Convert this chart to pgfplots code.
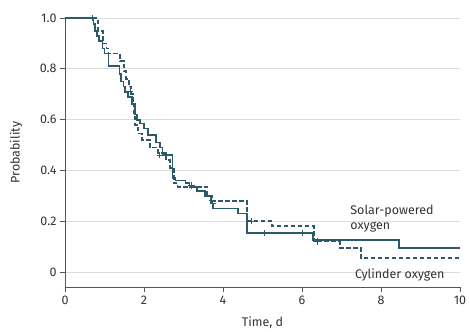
\documentclass[border=0pt]{standalone}
\usepackage{fontspec}
\setmainfont{Fira Sans}
\usepackage{pgfplots}
\pgfplotsset{compat=1.18}
\definecolor{km}{HTML}{2C5A68}
\definecolor{axg}{HTML}{555555}
\definecolor{grd}{HTML}{DCDCDC}
\definecolor{txt}{HTML}{333333}
\newcommand{\lf}{\fontsize{12.5bp}{14bp}\selectfont}
\begin{document}
\begin{tikzpicture}
\path[use as bounding box] (-65bp,-45bp) rectangle (405bp,287bp);
\begin{axis}[
  at={(0,0)}, anchor=south west,
  scale only axis, width=395bp, height=269bp,
  xmin=0, xmax=10, ymin=-0.059, ymax=1.0,
  axis x line*=bottom, axis y line*=left,
  axis line style={axg, line width=0.8pt, -},
  xtick={0,2,4,6,8,10},
  ytick={0,0.2,0.4,0.6,0.8,1.0},
  yticklabels={0,0.2,0.4,0.6,0.8,1.0},
  tick align=outside, major tick length=5bp,
  tick style={axg, line width=0.8pt},
  ymajorgrids, grid style={grd, line width=0.8pt},
  /pgf/number format/assume math mode=true,
  ticklabel style={font=\lf, text=txt},
  xlabel={Time, d}, ylabel={Probability},
  every axis x label/.style={at={([yshift=-36bp]axis description cs:0.5,0)}, anchor=center, font=\lf, text=txt},
  every axis y label/.style={at={([xshift=-49bp]axis description cs:0,0.5)}, rotate=90, anchor=center, font=\lf, text=txt},
  clip=false,
]
% Solar-powered oxygen (solid)
\addplot[const plot, km, line width=1.8pt] coordinates {
(0,1.0) (0.72,0.975) (0.76,0.95) (0.82,0.93) (0.87,0.91) (0.95,0.88) (1.0,0.86)
(1.1,0.81) (1.38,0.78) (1.42,0.75) (1.48,0.73) (1.52,0.71) (1.6,0.69) (1.7,0.66)
(1.77,0.62) (1.82,0.60) (1.9,0.585) (2.0,0.565) (2.1,0.54) (2.3,0.51) (2.4,0.49)
(2.47,0.46) (2.72,0.37) (2.8,0.36) (3.05,0.35) (3.15,0.335) (3.35,0.32) (3.55,0.30)
(3.7,0.27) (3.75,0.25) (4.38,0.23) (4.6,0.153) (6.28,0.125) (8.46,0.095) (10,0.095)
};
% Cylinder oxygen (dashed)
\addplot[const plot, km, line width=1.8pt, dash pattern=on 4.5bp off 2.5bp] coordinates {
(0,1.0) (0.84,0.95) (0.96,0.90) (1.05,0.88) (1.1,0.86) (1.39,0.83) (1.5,0.79)
(1.55,0.76) (1.62,0.73) (1.68,0.70) (1.72,0.66) (1.75,0.62) (1.78,0.58) (1.85,0.545)
(1.95,0.52) (2.15,0.49) (2.35,0.47) (2.55,0.44) (2.65,0.41) (2.75,0.35) (2.85,0.335)
(3.6,0.30) (3.72,0.28) (4.6,0.20) (5.25,0.18) (6.3,0.12) (6.96,0.095) (7.49,0.055) (10,0.055)
};
% censor marks
\addplot[only marks, mark=+, mark size=3.2bp, km, line width=1pt] coordinates {
(0.7,1.0) (2.4,0.46) (3.74,0.27) (5.06,0.153) (6.0,0.153)
};
\addplot[only marks, mark=+, mark size=3.2bp, km, line width=1pt] coordinates {
(1.65,0.71) (3.2,0.34) (3.72,0.28) (4.73,0.20) (6.4,0.12)
};
\node[anchor=west, align=left, font=\lf, text=txt, inner sep=0pt] at (axis cs:7.22,0.21) {Solar-powered\\[1bp]oxygen};
\node[anchor=west, font=\lf, text=txt, inner sep=0pt] at (axis cs:7.34,-0.012) {Cylinder oxygen};
\end{axis}
\end{tikzpicture}
\end{document}
